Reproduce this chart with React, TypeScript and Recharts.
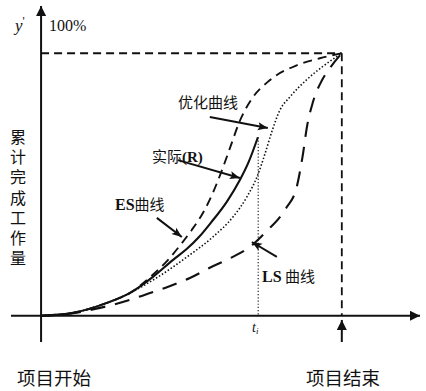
import React from "react";
import { LineChart, Line, XAxis, YAxis, ReferenceLine } from "recharts";

// S-curve points, x = % of duration, y = % of cumulative work
const esPoints: [number, number][] = [
  [0, 0], [10.6, 1.1], [21.9, 4.9], [29.6, 8.7], [38, 16.5], [42, 21], [46, 26.5],
  [50, 32.5], [54, 39.5], [57, 46.5], [60, 55], [63, 64.5], [66, 74], [70, 82.5],
  [76, 89.7], [85, 95.4], [92.7, 98.1], [100, 100],
];
const actualPoints: [number, number][] = [
  [0, 0], [10.6, 1.1], [21.9, 4.9], [29.6, 8.7], [37.2, 14.8], [43.9, 21.3],
  [48.5, 25.5], [52.5, 30], [56.5, 35.5], [61.8, 43.5], [66.1, 51.7], [69, 58.5], [72.1, 68],
];
const optimizedPoints: [number, number][] = [
  [0, 0], [10.6, 1.1], [21.9, 4.9], [29.6, 8.7], [38.5, 14.5], [48.5, 22.4], [57.1, 30],
  [63.8, 37.6], [68.4, 45.2], [71.8, 52.9], [74.4, 61.5], [76.7, 70], [79.4, 78.3],
  [82.7, 83.3], [88.4, 90], [93.7, 95], [100, 100],
];
const lsPoints: [number, number][] = [
  [0, 0], [10.6, 1.0], [19.6, 3.0], [29.6, 6.1], [34.6, 8], [41.2, 10.6], [45.5, 12.5],
  [49.5, 14.4], [56.1, 18.3], [63, 22], [69.4, 26.2], [75.4, 32.7], [79.4, 37.6],
  [81.7, 41.4], [85, 49], [87, 61], [88.4, 71.9], [90.4, 81.4], [93.4, 89.7], [96, 94.3], [100, 100],
];

const tI = 72.2;
const xDomain = [-10, 126];
const yDomain = [-10, 118];

// annotation arrows: [fromX, fromY, toX, toY]
const arrows: [number, number, number, number][] = [
  [56.1, 75.7, 75.4, 71.5],
  [45.5, 59.3, 66.1, 52.5],
  [38.5, 37.3, 46.8, 30],
  [78.4, 22.4, 70.1, 28.1],
];

const toData = (pts: [number, number][]) => pts.map(([x, y]) => ({ x, y }));

const ink = "#111";
const serif = "'Liberation Serif', 'DejaVu Serif', serif";
const cjk = "'Noto Sans CJK SC', sans-serif";

export default function App() {
  return (
    <div style={{ position: "absolute", left: 0, top: 0, width: 426, height: 391, background: "#fff" }}>
      <LineChart width={426} height={391} margin={{ top: 6, right: 6, bottom: 49, left: 11 }}>
        <defs>
          <marker id="axisHead" viewBox="0 0 10 10" refX="10" refY="5" markerWidth="7" markerHeight="5" orient="auto">
            <path d="M0,0 L10,5 L0,10 z" fill={ink} />
          </marker>
          <marker id="noteHead" viewBox="0 0 10 10" refX="10" refY="5" markerWidth="7" markerHeight="5" orient="auto">
            <path d="M0,1 L10,5 L0,9 L2,5 z" fill={ink} />
          </marker>
        </defs>
        <XAxis type="number" dataKey="x" domain={xDomain} hide allowDataOverflow />
        <YAxis type="number" dataKey="y" domain={yDomain} hide allowDataOverflow />

        {/* axes */}
        <ReferenceLine segment={[{ x: 0, y: -10 }, { x: 0, y: 118 }]} stroke={ink} strokeWidth={2} markerEnd="url(#axisHead)" />
        <ReferenceLine segment={[{ x: -10, y: 0 }, { x: 126, y: 0 }]} stroke={ink} strokeWidth={2} markerEnd="url(#axisHead)" />
        <ReferenceLine segment={[{ x: 100, y: -10 }, { x: 100, y: -1.6 }]} stroke={ink} strokeWidth={2} markerEnd="url(#axisHead)" />

        {/* 100% frame */}
        <ReferenceLine segment={[{ x: 0, y: 100 }, { x: 100, y: 100 }]} stroke={ink} strokeWidth={1.8} strokeDasharray="8 5" />
        <ReferenceLine segment={[{ x: 100, y: 100 }, { x: 100, y: 0 }]} stroke={ink} strokeWidth={1.8} strokeDasharray="8 5" />
        <ReferenceLine segment={[{ x: tI, y: 68 }, { x: tI, y: 0 }]} stroke={ink} strokeWidth={1.1} strokeDasharray="1.2 2" />

        <Line data={toData(esPoints)} dataKey="y" type="monotone" stroke={ink} strokeWidth={1.9} strokeDasharray="9 6" dot={false} isAnimationActive={false} />
        <Line data={toData(lsPoints)} dataKey="y" type="monotone" stroke={ink} strokeWidth={2.1} strokeDasharray="15 10" dot={false} isAnimationActive={false} />
        <Line data={toData(optimizedPoints)} dataKey="y" type="monotone" stroke={ink} strokeWidth={1.6} strokeDasharray="1.5 2" dot={false} isAnimationActive={false} />
        <Line data={toData(actualPoints)} dataKey="y" type="monotone" stroke={ink} strokeWidth={2.1} dot={false} isAnimationActive={false} />

        {arrows.map(([x1, y1, x2, y2], i) => (
          <ReferenceLine key={i} segment={[{ x: x1, y: y1 }, { x: x2, y: y2 }]} stroke={ink} strokeWidth={2} markerEnd="url(#noteHead)" />
        ))}

        <text x={15} y={31} fontFamily={serif} fontStyle="italic" fontSize={17} fill={ink}>
          y<tspan fontSize={12} dy={-6} fontStyle="normal">'</tspan>
        </text>
        <text x={49} y={31} fontFamily={serif} fontSize={16} fill={ink}>100%</text>
        <text x={18} y={129} fontFamily={cjk} fontSize={16} fill={ink} letterSpacing={4.2} style={{ writingMode: "vertical-rl" }}>
          累计完成工作量
        </text>
        <text x={178} y={108} fontFamily={cjk} fontSize={15} fill={ink}>优化曲线</text>
        <text x={152} y={162} fontFamily={cjk} fontSize={15} fill={ink}>
          实际<tspan fontFamily={serif} fontWeight="bold">(R)</tspan>
        </text>
        <text x={115} y={210} fill={ink}>
          <tspan fontFamily={serif} fontWeight="bold" fontSize={16}>ES</tspan>
          <tspan fontFamily={cjk} fontSize={15}>曲线</tspan>
        </text>
        <text x={262} y={282} fill={ink}>
          <tspan fontFamily={serif} fontWeight="bold" fontSize={16}>LS</tspan>
          <tspan fontFamily={cjk} fontSize={15}> 曲线</tspan>
        </text>
        <text x={252} y={332} fontFamily={serif} fontStyle="italic" fontSize={14} fill={ink}>
          t<tspan fontSize={9} dy={2}>i</tspan>
        </text>
        <text x={17} y={385} fontFamily={cjk} fontSize={18.5} fill={ink}>项目开始</text>
        <text x={306} y={385} fontFamily={cjk} fontSize={18.5} fill={ink}>项目结束</text>
      </LineChart>
    </div>
  );
}
